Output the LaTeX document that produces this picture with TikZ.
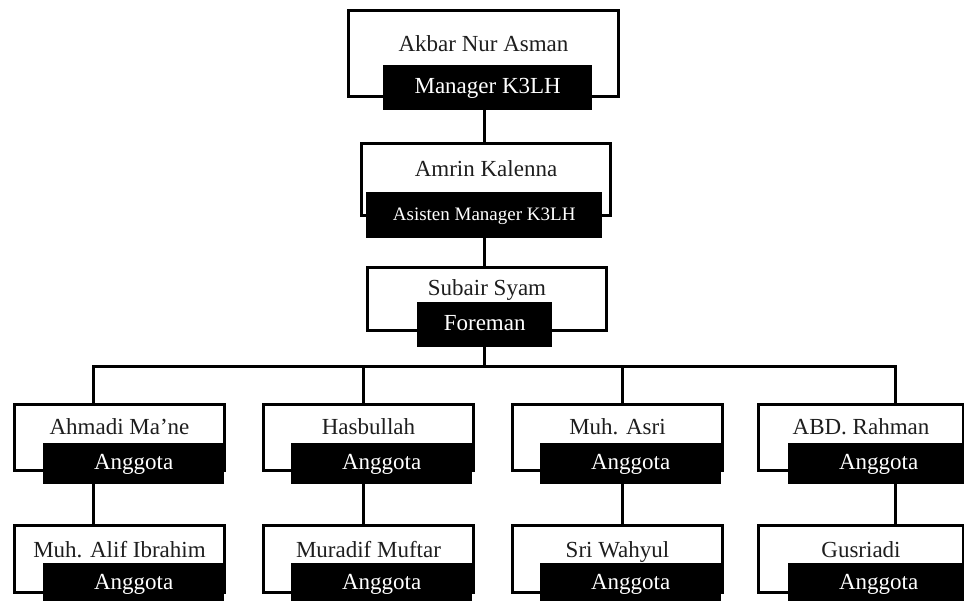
\documentclass[tikz,border=0pt]{standalone}
\usepackage{fontspec}
\setmainfont{Liberation Serif}
\usetikzlibrary{calc}
\definecolor{inktext}{HTML}{1E1E1E}

\begin{document}
\begin{tikzpicture}[x=1pt, y=-1pt,
  namebox/.style={draw=black, line width=3pt, fill=white, anchor=north west, inner sep=0pt,
                  font=\fontsize{23}{27}\selectfont, text=inktext},
  rolebox/.style={fill=black, anchor=north west, inner sep=0pt, text height=16pt, text depth=5pt,
                  font=\fontsize{23}{27}\selectfont, text=white},
  member/.style={namebox, minimum width=210pt, text height=30pt, text depth=36pt},
  submember/.style={namebox, minimum width=210pt, text height=32pt, text depth=35pt},
  anggotabox/.style={rolebox, minimum width=181pt, minimum height=41pt},
  link/.style={line width=3pt, draw=black}
]
  \useasboundingbox (0,0) rectangle (964,601);
  \clip (0,0) rectangle (964,601);

  % top of the chart
  \node[namebox, minimum width=270pt, text height=41pt, text depth=45pt] (akbar) at (347,9) {Akbar Nur Asman};
  \node[rolebox, minimum width=209pt, minimum height=45pt] (akbarR) at (383,65) {Manager K3LH};
  \node[namebox, minimum width=249pt, text height=33pt, text depth=39pt] (amrin) at (360,142) {Amrin Kalenna};
  \node[rolebox, minimum width=236pt, minimum height=46pt, font=\fontsize{19}{23}\selectfont] (amrinR) at (366,192) {Asisten Manager K3LH};
  \node[namebox, minimum width=239pt, text height=28pt, text depth=35pt] (subair) at (366,266) {Subair Syam};
  \node[rolebox, minimum width=135pt, minimum height=45pt] (subairR) at (417,302) {Foreman};

  % members, first row
  \node[member] (ahmadi) at (13,403) {Ahmadi Ma’ne};
  \node[anggotabox] (ahmadiR) at (43,443) {Anggota};
  \node[member] (hasbullah) at (262,403) {Hasbullah};
  \node[anggotabox] (hasbullahR) at (291,443) {Anggota};
  \node[member] (asri) at (511,403) {Muh. Asri};
  \node[anggotabox] (asriR) at (540,443) {Anggota};
  \node[member, minimum width=205pt] (rahman) at (757,403) {ABD. Rahman};
  \node[anggotabox] (rahmanR) at (788,443) {Anggota};

  % members, second row
  \node[submember] (alif) at (13,524) {Muh. Alif Ibrahim};
  \node[anggotabox] (alifR) at (43,563) {Anggota};
  \node[submember] (muradif) at (262,524) {Muradif Muftar};
  \node[anggotabox] (muradifR) at (291,563) {Anggota};
  \node[submember] (wahyul) at (511,524) {Sri Wahyul};
  \node[anggotabox] (wahyulR) at (540,563) {Anggota};
  \node[submember, minimum width=205pt] (gusriadi) at (757,524) {Gusriadi};
  \node[anggotabox] (gusriadiR) at (788,563) {Anggota};

  \coordinate (spine) at (484,0);
  \coordinate (d1) at (93,367);
  \coordinate (d2) at (363,367);
  \coordinate (d3) at (622,367);
  \coordinate (d4) at (895,367);

  \draw[link] (akbarR.south -| spine) -- (amrin.north -| spine);
  \draw[link] (amrinR.south -| spine) -- (subair.north -| spine);
  \draw[link] (subairR.south -| spine) -- (spine |- d1);
  \draw[link] (d1 |- ahmadi.north) -- (d1) -- (d4) -- (d4 |- rahman.north);
  \draw[link] (d2) -- (d2 |- hasbullah.north);
  \draw[link] (d3) -- (d3 |- asri.north);

  \draw[link] (ahmadiR.south -| d1) -- (alif.north -| d1);
  \draw[link] (hasbullahR.south -| d2) -- (muradif.north -| d2);
  \draw[link] (asriR.south -| d3) -- (wahyul.north -| d3);
  \draw[link] (rahmanR.south -| d4) -- (gusriadi.north -| d4);
\end{tikzpicture}
\end{document}
